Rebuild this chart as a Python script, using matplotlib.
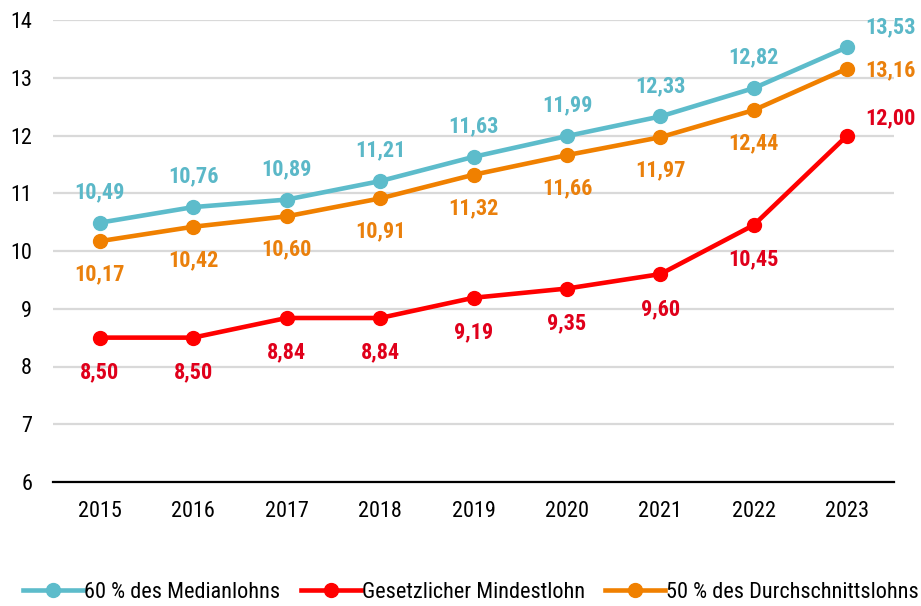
import matplotlib
matplotlib.use("Agg")
import matplotlib.pyplot as plt
from matplotlib import font_manager

fams = {f.name for f in font_manager.fontManager.ttflist}
base = 'Liberation Sans'
narrow = False
for cand in ['Liberation Sans Narrow', 'Arial Narrow', 'Roboto Condensed', 'Open Sans Condensed']:
    if cand in fams:
        base = cand
        narrow = True
        break
plt.rcParams['font.family'] = [base, 'DejaVu Sans']

years = ['2015', '2016', '2017', '2018', '2019', '2020', '2021', '2022', '2023']
median60 = [10.49, 10.76, 10.89, 11.21, 11.63, 11.99, 12.33, 12.82, 13.53]
mindest = [8.50, 8.50, 8.84, 8.84, 9.19, 9.35, 9.60, 10.45, 12.00]
durch50 = [10.17, 10.42, 10.60, 10.91, 11.32, 11.66, 11.97, 12.44, 13.16]
yticks = [6, 7, 8, 9, 10, 11, 12, 13, 14]

c_blue = '#5DBCCB'
c_red = '#FF0000'
c_orange = '#F08000'
t_blue = '#5BB8C8'
t_red = '#E0001B'
t_orange = '#EA800C'

fig = plt.figure(figsize=(9.21, 6.06), dpi=100)
ax = fig.add_axes([53/921, 1-482/606, (894-53)/921, (482-20)/606])
x = list(range(len(years)))

ax.plot(x, median60, color=c_blue, lw=3.3, marker='o', ms=10, label='60 % des Medianlohns', zorder=4)
ax.plot(x, mindest, color=c_red, lw=3.3, marker='o', ms=10, label='Gesetzlicher Mindestlohn', zorder=4)
ax.plot(x, durch50, color=c_orange, lw=3.3, marker='o', ms=10, label='50 % des Durchschnittslohns', zorder=4)

def fmt(v):
    return f"{v:.2f}".replace('.', ',')

fs = 16 if narrow else 14.3
n = len(years)
for i in range(n):
    if i == n - 1:
        ax.annotate(fmt(median60[i]), (i, median60[i]), xytext=(13, 14), textcoords='offset points',
                    ha='left', va='center', color=t_blue, fontsize=fs, fontweight='bold')
        ax.annotate(fmt(durch50[i]), (i, durch50[i]), xytext=(13, -1), textcoords='offset points',
                    ha='left', va='center', color=t_orange, fontsize=fs, fontweight='bold')
        ax.annotate(fmt(mindest[i]), (i, mindest[i]), xytext=(13, 12.5), textcoords='offset points',
                    ha='left', va='center', color=t_red, fontsize=fs, fontweight='bold')
    else:
        ax.annotate(fmt(median60[i]), (i, median60[i]), xytext=(0, 22), textcoords='offset points',
                    ha='center', va='center', color=t_blue, fontsize=fs, fontweight='bold')
        ax.annotate(fmt(durch50[i]), (i, durch50[i]), xytext=(0, -24), textcoords='offset points',
                    ha='center', va='center', color=t_orange, fontsize=fs, fontweight='bold')
        ax.annotate(fmt(mindest[i]), (i, mindest[i]), xytext=(0, -25), textcoords='offset points',
                    ha='center', va='center', color=t_red, fontsize=fs, fontweight='bold')

ax.set_xlim(-0.5, n - 0.5)
ax.set_ylim(6, 14)
ax.set_yticks(yticks)
ax.set_yticklabels([str(t) for t in yticks])
ax.set_xticks(x)
ax.set_xticklabels(years)
ax.tick_params(axis='both', length=0, labelsize=16 if narrow else 15.5)
ax.tick_params(axis='x', pad=14)
ax.tick_params(axis='y', pad=15)
for s in ['top', 'right', 'left']:
    ax.spines[s].set_visible(False)
ax.spines['bottom'].set_color('black')
ax.spines['bottom'].set_linewidth(1.6)
ax.grid(axis='y', color='#D9D9D9', lw=1.6)
ax.set_axisbelow(True)

leg = fig.legend(loc='center', bbox_to_anchor=(471/921, 1-592/606), ncol=3, frameon=False,
                 fontsize=16 if narrow else 13.8, handlelength=2.7, handletextpad=0.05,
                 columnspacing=0.9)

fig.savefig('out.png', dpi=100)
